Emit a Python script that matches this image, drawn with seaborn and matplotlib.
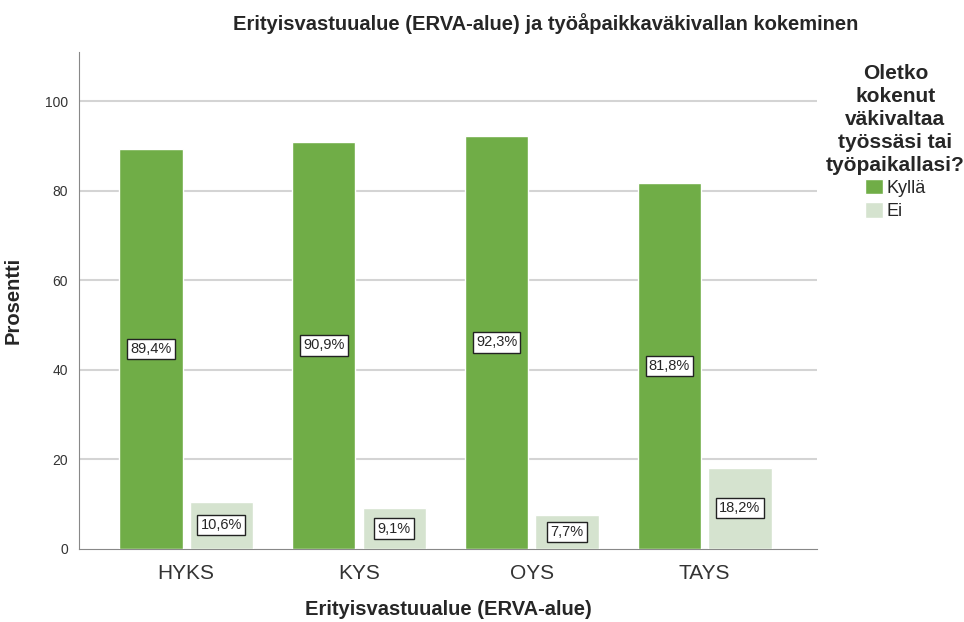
import matplotlib
matplotlib.use("Agg")
import matplotlib.pyplot as plt
import seaborn as sns
import pandas as pd

# data
alueet = ["HYKS", "KYS", "OYS", "TAYS"]
kylla = [89.4, 90.9, 92.3, 81.8]
ei = [10.6, 9.1, 7.7, 18.2]
vastaukset = ["Kyllä", "Ei"]

df = pd.DataFrame({
    "alue": alueet * 2,
    "vastaus": ["Kyllä"] * 4 + ["Ei"] * 4,
    "prosentti": kylla + ei,
})

sns.set_style("white")
plt.rcParams["font.family"] = ["Liberation Sans", "DejaVu Sans"]

fig = plt.figure(figsize=(9.64, 6.22), dpi=100)
ax = fig.add_axes([79 / 964, 1 - 549 / 622, (817 - 79) / 964, (549 - 52) / 622])

pal = {"Kyllä": "#70AD47", "Ei": "#D5E3CF"}
sns.barplot(data=df, x="alue", y="prosentti", hue="vastaus", hue_order=vastaukset,
            palette=pal, width=0.815, gap=0.1, saturation=1, ax=ax, zorder=3)

# value labels in boxes at middle of bars
for cont in ax.containers:
    for bar in cont:
        h = bar.get_height()
        ax.text(bar.get_x() + bar.get_width() / 2, h / 2,
                f"{h:.1f}".replace(".", ",") + "%",
                ha="center", va="center", fontsize=10.5, zorder=5,
                bbox=dict(boxstyle="square,pad=0.22", fc="white", ec="#222222", lw=1))

ax.set_ylim(0, 111)
ax.set_xlim(-0.62, 3.65)
ax.set_yticks([0, 20, 40, 60, 80, 100])
for y in [20, 40, 60, 80, 100]:
    ax.axhline(y, color="#d4d4d4", lw=1.5, zorder=1)

for s in ["top", "right"]:
    ax.spines[s].set_visible(False)
ax.spines["left"].set_color("#888888")
ax.spines["bottom"].set_color("#888888")
ax.tick_params(axis="y", labelsize=10, colors="#333333", length=0, pad=8)
ax.tick_params(axis="x", labelsize=15, colors="#333333", length=0, pad=11)

ax.set_xlabel("Erityisvastuualue (ERVA-alue)", fontsize=14.5, fontweight="bold", labelpad=12)
ax.set_ylabel("Prosentti", fontsize=14.5, fontweight="bold", labelpad=16)

fig.text(0.566, 0.963, "Erityisvastuualue (ERVA-alue) ja työåpaikkaväkivallan kokeminen",
         ha="center", va="center", fontsize=14.5, fontweight="bold")

leg = ax.legend(title="Oletko\nkokenut\nväkivaltaa\ntyössäsi tai\ntyöpaikallasi?",
                loc="upper left", bbox_to_anchor=(1.0, 0.994), frameon=False,
                borderaxespad=0.3, borderpad=0.2,
                fontsize=13, title_fontproperties={"weight": "bold", "size": 15},
                handlelength=0.95, handleheight=0.95, handletextpad=0.2, labelspacing=0.3)
leg.get_title().set_multialignment("center")
leg.get_title().set_linespacing(1.26)
leg._legend_box.align = "center"
leg._legend_box.sep = 3

fig.savefig("out.png", dpi=100)
